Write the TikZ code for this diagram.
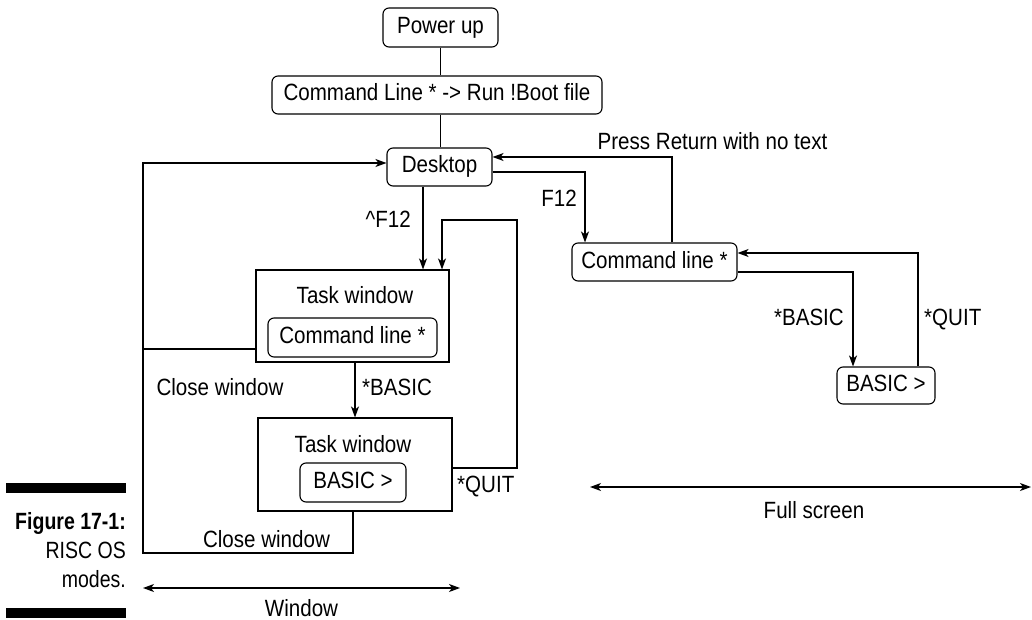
\documentclass[tikz,border=0pt]{standalone}
\usepackage{fontspec}
\setmainfont{Liberation Sans}[FakeStretch=0.875]
\newfontfamily\capfont{Liberation Sans}[FakeStretch=0.83]
\usetikzlibrary{arrows.meta}
\begin{document}
\begin{tikzpicture}[x=1pt,y=-1pt,
  every node/.style={font=\fontsize{23.5}{28}\selectfont},
  rbox/.style={draw, rounded corners=6pt, line width=1.1pt, inner sep=0pt, text height=17pt, text depth=5pt},
  sbox/.style={draw, line width=1.1pt, inner sep=0pt},
  lbl/.style={inner sep=0pt},
  conn/.style={line width=1.1pt},
  arr/.style={conn, -{Stealth[length=11pt,width=8pt,inset=3pt]}},
  darr/.style={conn, {Stealth[length=11pt,width=8pt,inset=3pt]}-{Stealth[length=11pt,width=8pt,inset=3pt]}}]
\useasboundingbox (0,0) rectangle (1032,620);

% boxes
\node[rbox, minimum width=115pt, minimum height=39pt] (pwr) at (440.5,27.5) {Power up};
\node[rbox, minimum width=330pt, minimum height=38pt] (boot) at (437,95) {Command Line * -> Run !Boot file};
\node[rbox, minimum width=105pt, minimum height=38pt] (desk) at (439.5,167) {Desktop};
\node[sbox, minimum width=193pt, minimum height=92pt] (tw1) at (352.5,316) {};
\node[lbl, anchor=base] (tw1t) at (355,303) {Task window};
\node[rbox, minimum width=169pt, minimum height=39pt] (cl1) at (352.5,337.5) {Command line *};
\node[sbox, minimum width=194pt, minimum height=93pt] (tw2) at (355,464.5) {};
\node[lbl, anchor=base] (tw2t) at (353,452) {Task window};
\node[rbox, minimum width=106pt, minimum height=39pt] (b1) at (353,482.5) {BASIC >};
\node[rbox, minimum width=165pt, minimum height=38pt] (cl2) at (654.5,262) {Command line *};
\node[rbox, minimum width=98pt, minimum height=37pt] (b2) at (886,385.5) {BASIC >};

% helper coordinates
\coordinate (fa) at (423,0);
\coordinate (qa) at (517,468);
\coordinate (qb) at (517,220);
\coordinate (qc) at (442,220);
\coordinate (ca) at (143,553);
\coordinate (cb) at (143,163);
\coordinate (cc) at (353,553);
\coordinate (cd) at (143,349);
\coordinate (fb) at (585,172);
\coordinate (ra) at (672,157);
\coordinate (ba) at (853,272);
\coordinate (qd) at (918,253);
\coordinate (wl) at (143,588);
\coordinate (wr) at (460,588);
\coordinate (fl) at (590,487);
\coordinate (fr) at (1031,487);

% connectors
\draw[conn] (pwr.south) -- (pwr.south |- boot.north);
\draw[conn] (pwr.south |- boot.south) -- (pwr.south |- desk.north);
\draw[arr] (fa |- desk.south) -- (fa |- tw1.north);
\draw[arr] (tw2.east |- qa) -- (qa) -- (qb) -- (qc) -- (qc |- tw1.north);
\draw[arr] (tw2.north |- tw1.south) -- (tw2.north);
\draw[arr] (cc |- tw2.south) -- (cc) -- (ca) -- (cb) -- (cb -| desk.west);
\draw[conn] (cd -| tw1.west) -- (cd);
\draw[arr] (fb -| desk.east) -- (fb) -- (fb |- cl2.north);
\draw[arr] (ra |- cl2.north) -- (ra) -- (ra -| desk.east);
\draw[arr] (ba -| cl2.east) -- (ba) -- (ba |- b2.north);
\draw[arr] (qd |- b2.north) -- (qd) -- (qd -| cl2.east);
\draw[darr] (wl) -- (wr);
\draw[darr] (fl) -- (fr);

% labels
\node[lbl, anchor=base east] (l1) at (411,228) {\textasciicircum F12};
\node[lbl, anchor=base west] (l2) at (457,492) {*QUIT};
\node[lbl, anchor=base west] (l3) at (362,395) {*BASIC};
\node[lbl, anchor=base] (l4) at (220,395) {Close window};
\node[lbl, anchor=base] (l5) at (266.5,547) {Close window};
\node[lbl, anchor=base east] (l6) at (577,207) {F12};
\node[lbl, anchor=base] (l7) at (712.5,150) {Press Return with no text};
\node[lbl, anchor=base east] (l8) at (844,325) {*BASIC};
\node[lbl, anchor=base west] (l9) at (924,325) {*QUIT};
\node[lbl, anchor=base] (l10) at (301.5,616) {Window};
\node[lbl, anchor=base] (l11) at (814,518) {Full screen};

% caption
\fill (6,483) rectangle (126,493);
\fill (6,608) rectangle (126,618);
\node[lbl, anchor=base east, font=\capfont\bfseries\fontsize{23.5}{28}\selectfont] (c1) at (126,529) {Figure 17-1:};
\node[lbl, anchor=base east, font=\capfont\fontsize{23.5}{28}\selectfont] (c2) at (126,558) {RISC OS};
\node[lbl, anchor=base east, font=\capfont\fontsize{23.5}{28}\selectfont] (c3) at (126,587) {modes.};
\end{tikzpicture}
\end{document}
